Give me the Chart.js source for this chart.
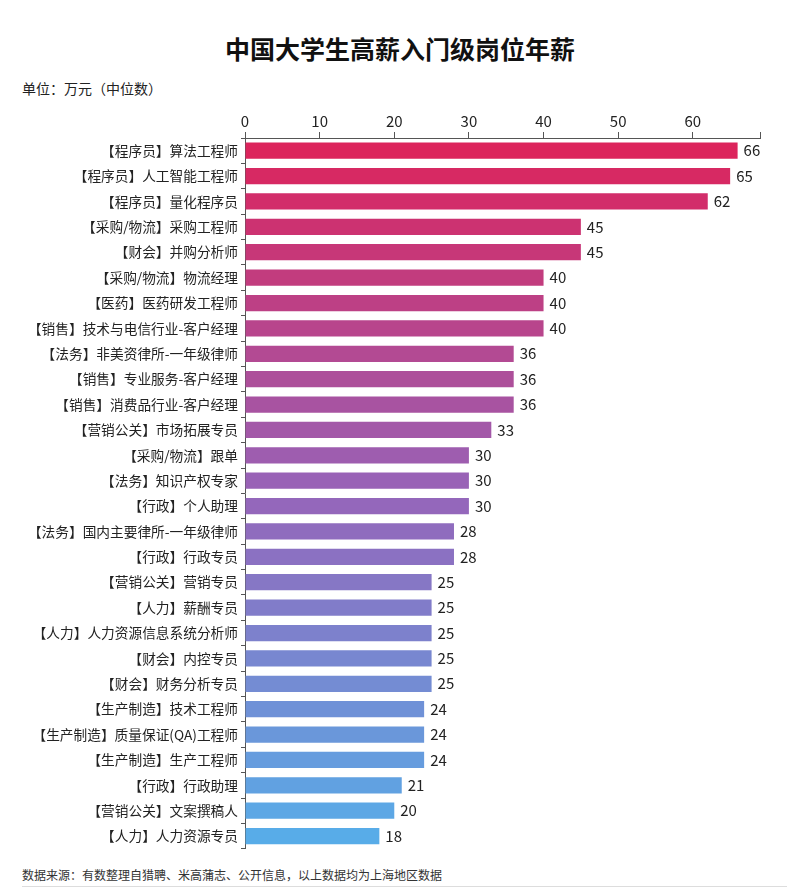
<!DOCTYPE html>
<html><head><meta charset="utf-8">
<script src="https://cdn.jsdelivr.net/npm/chart.js@4"></script>
<style>
body{margin:0;background:#fff;font-family:"Noto Sans CJK SC",sans-serif;}
#wrap{position:relative;width:800px;height:894px;}
#title{position:absolute;top:30px;left:0;width:800px;text-align:center;font-size:25px;font-weight:bold;color:#111;}
#unit{position:absolute;top:78px;left:22px;font-size:14px;color:#222;}
#src{position:absolute;top:866px;left:22px;font-size:12px;color:#333;}
#line{position:absolute;top:886px;left:22px;width:765px;border-top:1px solid #ddd;}
#box{position:absolute;top:100px;left:0;width:800px;height:760px;}
</style></head><body>
<div id="wrap">
<div id="title">中国大学生高薪入门级岗位年薪</div>
<div id="unit">单位：万元（中位数）</div>
<div id="box"><canvas id="c"></canvas></div>
<div id="src">数据来源：有数整理自猎聘、米高蒲志、公开信息，以上数据均为上海地区数据</div>
<div id="line"></div>
</div>
<script>
var categories = ['【程序员】算法工程师','【程序员】人工智能工程师','【程序员】量化程序员','【采购/物流】采购工程师','【财会】并购分析师','【采购/物流】物流经理','【医药】医药研发工程师','【销售】技术与电信行业-客户经理','【法务】非美资律所-一年级律师','【销售】专业服务-客户经理','【销售】消费品行业-客户经理','【营销公关】市场拓展专员','【采购/物流】跟单','【法务】知识产权专家','【行政】个人助理','【法务】国内主要律所-一年级律师','【行政】行政专员','【营销公关】营销专员','【人力】薪酬专员','【人力】人力资源信息系统分析师','【财会】内控专员','【财会】财务分析专员','【生产制造】技术工程师','【生产制造】质量保证(QA)工程师','【生产制造】生产工程师','【行政】行政助理','【营销公关】文案撰稿人','【人力】人力资源专员'];
var salaries = [66,65,62,45,45,40,40,40,36,36,36,33,30,30,30,28,28,25,25,25,25,25,24,24,24,21,20,18];

function mix(a,b,t){return a.map(function(v,i){return Math.round(v+(b[i]-v)*t);});}
var c0=[220,36,92], c1=[150,100,185], c2=[88,172,232];
var colors = salaries.map(function(_,i){
  var t=i/(salaries.length-1), c = t<0.5?mix(c0,c1,t*2):mix(c1,c2,(t-0.5)*2);
  return 'rgb('+c.join(',')+')';
});

var valueLabels = {
  id:'valueLabels',
  afterDatasetsDraw: function(chart){
    var ctx=chart.ctx, meta=chart.getDatasetMeta(0);
    ctx.save();ctx.font='15px "Noto Sans CJK SC"';ctx.fillStyle='#222';ctx.textBaseline='middle';
    meta.data.forEach(function(b,i){ctx.fillText(salaries[i], b.x+6, b.y);});
    ctx.restore();
  }
};

new Chart(document.getElementById('c'), {
  type:'bar',
  data:{labels:categories,datasets:[{data:salaries,backgroundColor:colors,categoryPercentage:1,barPercentage:0.64}]},
  options:{
    indexAxis:'y',animation:false,responsive:true,maintainAspectRatio:false,
    layout:{padding:{left:0,right:40,top:10,bottom:1}},
    plugins:{legend:{display:false},tooltip:{enabled:false}},
    scales:{
      x:{position:'top',min:0,max:69,
        ticks:{stepSize:10,color:'#222',font:{size:15,family:'"Noto Sans CJK SC"'},padding:2,
          callback:function(v){return v<=60?v:'';}},
        grid:{drawOnChartArea:false,tickLength:6,color:'#555'},
        border:{color:'#555'}},
      y:{afterFit:function(s){s.width=245;},
        ticks:{color:'#222',font:{size:13.7,family:'"Noto Sans CJK SC"'},autoSkip:false,padding:3},
        grid:{drawOnChartArea:false,tickLength:4,color:'#555'},
        border:{color:'#555'}}
    }
  },
  plugins:[valueLabels]
});
</script>
</body></html>
